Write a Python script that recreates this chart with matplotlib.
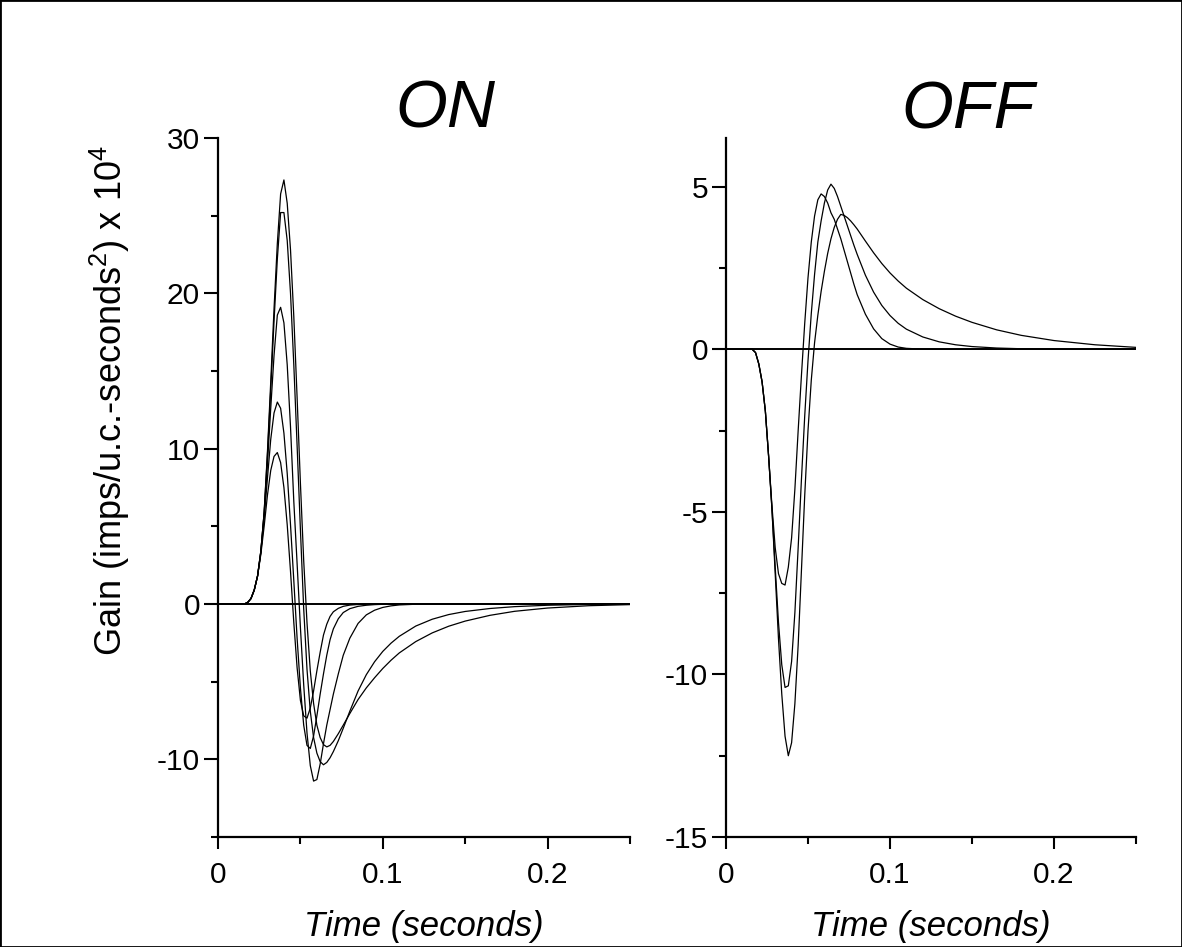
import matplotlib
matplotlib.use("Agg")
import matplotlib.pyplot as plt
from matplotlib.patches import Rectangle
from matplotlib.ticker import MultipleLocator, FuncFormatter

plt.rcParams['font.family'] = ['Liberation Sans', 'DejaVu Sans']
plt.rcParams['mathtext.fontset'] = 'custom'
plt.rcParams['mathtext.rm'] = 'Liberation Sans'
plt.rcParams['mathtext.it'] = 'Liberation Sans:italic'
plt.rcParams['mathtext.default'] = 'regular'
plt.rcParams['axes.unicode_minus'] = False

# ---------------- data ----------------
time_on = [0.000, 0.010, 0.016, 0.018,
           0.020, 0.022, 0.024, 0.026, 0.028, 0.030, 0.032, 0.034, 0.036, 0.038,
           0.040, 0.042, 0.044, 0.046, 0.048, 0.050, 0.052, 0.054, 0.056, 0.058,
           0.060, 0.062, 0.064, 0.066, 0.068, 0.070,
           0.073, 0.076, 0.080, 0.085, 0.090, 0.095, 0.100, 0.105,
           0.110, 0.120, 0.130, 0.140, 0.150,
           0.165, 0.180, 0.200, 0.225, 0.250]

on_1 = [0, 0, 0, 0.1,
        0.35, 0.9, 1.8, 3.4, 5.9, 9.8, 14.3, 19.0, 23.2, 26.4,
        27.3, 25.8, 22.8, 18.5, 13.3, 7.8, 2.8, -1.2, -4.3, -6.4,
        -7.8, -8.6, -9.05, -9.2, -9.1, -8.85,
        -8.35, -7.8, -7.05, -6.15, -5.4, -4.75, -4.15, -3.62,
        -3.15, -2.42, -1.86, -1.43, -1.1,
        -0.73, -0.47, -0.26, -0.11, -0.04]

on_2 = [0, 0, 0, 0.1,
        0.35, 0.9, 1.8, 3.4, 5.9, 9.6, 13.8, 18.2, 22.2, 25.2,
        25.2, 23.4, 20.0, 15.4, 10.2, 4.8, -0.3, -4.2, -6.9, -8.6,
        -9.6, -10.15, -10.35, -10.2, -9.9, -9.5,
        -8.8, -8.0, -6.9, -5.6, -4.55, -3.72, -3.05, -2.52,
        -2.08, -1.42, -0.98, -0.68, -0.48,
        -0.29, -0.17, -0.08, -0.03, -0.01]

on_3 = [0, 0, 0, 0.1,
        0.35, 0.9, 1.8, 3.4, 5.8, 9.0, 12.6, 16.0, 18.6, 19.1,
        18.1, 15.4, 11.4, 6.6, 2.6, -1.5, -5.2, -8.3, -10.4, -11.4,
        -11.3, -10.3, -9.0, -7.8, -6.8, -5.8,
        -4.5, -3.3, -2.2, -1.25, -0.7, -0.4, -0.22, -0.12,
        -0.06, -0.015, 0, 0, 0,
        0, 0, 0, 0, 0]

on_4 = [0, 0, 0, 0.1,
        0.35, 0.9, 1.8, 3.3, 5.5, 8.1, 10.6, 12.3, 13.0, 12.6,
        11.0, 8.4, 5.1, 1.5, -2.2, -5.4, -7.8, -9.1, -9.3, -8.5,
        -7.2, -5.8, -4.5, -3.3, -2.3, -1.6,
        -0.95, -0.55, -0.3, -0.15, -0.08, -0.04, -0.02, -0.01,
        0, 0, 0, 0, 0,
        0, 0, 0, 0, 0]

on_5 = [0, 0, 0, 0.1,
        0.35, 0.9, 1.8, 3.2, 5.0, 7.0, 8.6, 9.5, 9.75, 9.1,
        7.5, 5.1, 2.1, -1.2, -4.1, -6.2, -7.2, -7.35, -6.7, -5.6,
        -4.3, -3.1, -2.0, -1.3, -0.8, -0.5,
        -0.28, -0.15, -0.07, -0.03, -0.01, 0, 0, 0,
        0, 0, 0, 0, 0,
        0, 0, 0, 0, 0]

time_off = [0.000, 0.010, 0.016, 0.018,
            0.020, 0.022, 0.024, 0.026, 0.028, 0.030, 0.032, 0.034, 0.036, 0.038,
            0.040, 0.042, 0.044, 0.046, 0.048, 0.050, 0.052, 0.054, 0.056, 0.058,
            0.060, 0.062, 0.064, 0.066, 0.068, 0.070, 0.072, 0.074, 0.076, 0.078,
            0.080,
            0.085, 0.090, 0.095, 0.100, 0.105,
            0.110, 0.120, 0.130, 0.140, 0.150,
            0.165, 0.180, 0.200, 0.225, 0.250]

off_1 = [0, 0, 0, -0.1,
         -0.45, -1.0, -1.9, -3.3, -4.8, -6.1, -6.9, -7.2, -7.25, -6.7,
         -5.8, -4.3, -2.5, -0.8, 0.8, 2.2, 3.3, 4.1, 4.6, 4.78,
         4.7, 4.5, 4.2, 4.0, 3.7, 3.4, 3.05, 2.7, 2.35, 2.0,
         1.68,
         1.08, 0.63, 0.33, 0.16, 0.07,
         0.03, 0.005, 0, 0, 0,
         0, 0, 0, 0, 0]

off_2 = [0, 0, 0, -0.1,
         -0.45, -1.0, -1.9, -3.3, -4.9, -6.7, -8.4, -9.7, -10.4, -10.35,
         -9.6, -8.1, -6.1, -4.0, -2.05, -0.35, 1.1, 2.3, 3.3, 3.95,
         4.5, 4.9, 5.08, 4.95, 4.7, 4.4, 4.1, 3.8, 3.5, 3.2,
         2.92,
         2.28, 1.76, 1.35, 1.04, 0.8,
         0.62, 0.38, 0.23, 0.14, 0.085,
         0.04, 0.018, 0.006, 0, 0]

off_3 = [0, 0, 0, -0.1,
         -0.45, -1.0, -1.9, -3.3, -4.9, -6.9, -8.9, -10.6, -11.9, -12.5,
         -12.1, -10.9, -9.1, -6.8, -4.5, -2.5, -0.95, 0.2, 1.05, 1.78,
         2.4, 2.95, 3.4, 3.75, 4.0, 4.15, 4.12, 4.05, 3.95, 3.83,
         3.7,
         3.33, 2.97, 2.64, 2.35, 2.1,
         1.88, 1.53, 1.25, 1.02, 0.83,
         0.6, 0.43, 0.27, 0.14, 0.06]

panel_titles = ['ON', 'OFF']
x_label = 'Time (seconds)'
y_label = 'Gain (imps/u.c.-seconds$^{2}$) x 10$^{4}$'

# ---------------- figure ----------------
W, H = 1182, 947
fig = plt.figure(figsize=(W / 100, H / 100), dpi=100)
fig.patch.set_facecolor('white')

ax1 = fig.add_axes([218 / W, 1 - 837 / H, 412 / W, 699 / H])
ax2 = fig.add_axes([726 / W, 1 - 837 / H, 410 / W, 699 / H])

for y in (on_1, on_2, on_3, on_4, on_5):
    ax1.plot(time_on, y, color='black', lw=0.9, solid_joinstyle='round')
for y in (off_1, off_2, off_3):
    ax2.plot(time_off, y, color='black', lw=0.9, solid_joinstyle='round')

def fmt_x(v, _):
    return '0' if abs(v) < 1e-9 else '%g' % v

for ax, ylim, major, minor in ((ax1, (-15, 30), 10, 5), (ax2, (-15, 6.5), 5, 2.5)):
    ax.axhline(0, color='black', lw=1.4, zorder=1)
    ax.set_xlim(0, 0.25)
    ax.set_ylim(*ylim)
    for s in ('top', 'right'):
        ax.spines[s].set_visible(False)
    for s in ('left', 'bottom'):
        ax.spines[s].set_linewidth(1.6)
    ax.xaxis.set_major_locator(MultipleLocator(0.1))
    ax.xaxis.set_minor_locator(MultipleLocator(0.05))
    ax.yaxis.set_major_locator(MultipleLocator(major))
    ax.yaxis.set_minor_locator(MultipleLocator(minor))
    ax.xaxis.set_major_formatter(FuncFormatter(fmt_x))
    ax.tick_params(axis='x', which='major', direction='out', length=8.5, width=1.5,
                   labelsize=21.5, pad=9)
    ax.tick_params(axis='y', which='major', direction='out', length=10, width=1.5,
                   labelsize=21.5, pad=3)
    ax.tick_params(which='minor', direction='out', length=5, width=1.5)
    ax.set_xlabel(x_label, fontsize=25, style='italic')
    ax.xaxis.set_label_coords(0.5, -0.105)

fig.text(110 / W, 1 - 401 / H, y_label, rotation=90, ha='center', va='center',
         fontsize=26)
fig.text(445 / W, 1 - 127 / H, panel_titles[0], ha='center', va='baseline',
         fontsize=48, style='italic')
fig.text(968 / W, 1 - 128 / H, panel_titles[1], ha='center', va='baseline',
         fontsize=48, style='italic')

fig.add_artist(Rectangle((0, 0), 1, 1, transform=fig.transFigure, fill=False,
                         edgecolor='black', lw=2))

fig.savefig('out.png', dpi=100, facecolor='white')
